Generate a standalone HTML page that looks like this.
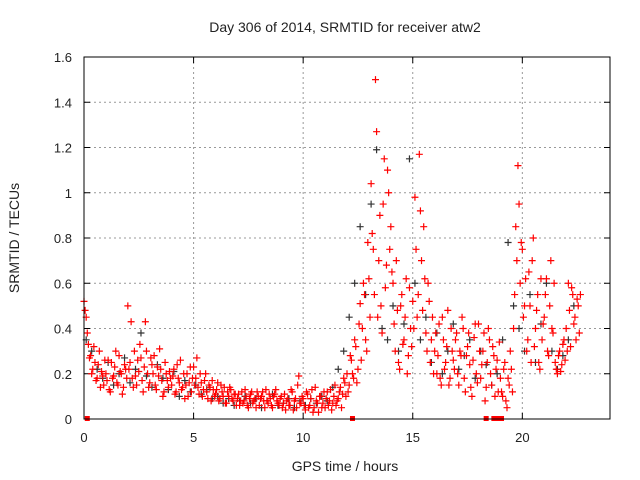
<!DOCTYPE html>
<html><head><meta charset="utf-8"><style>
html,body{margin:0;padding:0;background:#fff;}
svg{display:block;font-family:"Liberation Sans",sans-serif;}
</style></head><body>
<svg id="chart" width="640" height="480">
<text x="345" y="32" font-size="14" text-anchor="middle" fill="#222">Day 306 of 2014, SRMTID for receiver atw2</text>
<text x="345" y="471" font-size="14" text-anchor="middle" fill="#222">GPS time / hours</text>
<text x="19" y="238" font-size="14" text-anchor="middle" fill="#222" transform="rotate(-90 19 238)">SRMTID / TECUs</text>
<g id="grid"></g>
<g id="ticks"></g>
<g id="series-black"></g>
<g id="series-red"></g>
<rect x="84" y="57" width="526" height="362" fill="none" stroke="#000" stroke-width="1"/>
</svg>
<script>
const xTicks=[0,5,10,15,20];
const yTicks=[0,0.2,0.4,0.6,0.8,1,1.2,1.4,1.6];
const yTickLabels=["0","0.2","0.4","0.6","0.8","1","1.2","1.4","1.6"];
const redA=[0.52,0.45,0.33,0.28,0.22,0.25,0.18,0.30,0.21,0.15,
0.20,0.26,0.12,0.18,0.23,0.16,0.28,0.20,0.14,0.22,
0.50,0.25,0.18,0.30,0.15,0.21,0.27,0.12,0.43,0.20,
0.16,0.24,0.28,0.13,0.19,0.22,0.10,0.25,0.17,0.21,
0.15,0.22,0.12,0.18,0.26,0.14,0.09,0.20,0.16,0.12,
0.23,0.18,0.14,0.20,0.10,0.17,0.12,0.15,0.08,0.13,
0.11,0.16,0.09,0.12,0.14,0.07,0.10,0.13,0.08,0.11,
0.09,0.06,0.12,0.08,0.10,0.05,0.11,0.07,0.09,0.12,
0.06,0.10,0.08,0.13,0.07,0.09,0.05,0.11,0.08,0.06,
0.10,0.07,0.04,0.09,0.06,0.12,0.08,0.05,0.19,0.07,
0.09,0.04,0.11,0.06,0.13,0.05,0.08,0.03,0.10,0.07,
0.05,0.12,0.08,0.04,0.10,0.06,0.09,0.14,0.11,0.16,
0.20,0.15,0.26,0.18,0.32,0.22,0.51,0.40,0.55,0.30,
0.62,1.04,0.75,1.50,0.45,0.90,0.38,1.15,0.68,1.00,
0.85,0.60,0.30,0.48,0.22,0.55,0.35,0.62,0.28,0.40,
0.52,0.98,0.45,1.17,0.70,0.85,0.38,0.60,0.25,0.45,
0.30,0.20,0.42,0.15,0.35,0.25,0.48,0.18,0.30,0.22,
0.38,0.15,0.28,0.40,0.12,0.32,0.24,0.10,0.36,0.20,
0.42,0.18,0.30,0.08,0.25,0.35,0.15,0.28,0.22,0.12,
0.18,0.10,0.25,0.05,0.15,0.22,0.40,0.85,1.12,0.60,
0.75,0.50,0.30,0.65,0.25,0.80,0.40,0.55,0.22,0.35,
0.45,0.62,0.28,0.70,0.38,0.25,0.20,0.30,0.24,0.35,
0.40,0.60,0.32,0.55,0.45,0.53,0.38];
const redB=[0.48,0.38,0.27,0.20,0.32,0.17,0.24,0.14,0.19,0.26,
0.17,0.13,0.25,0.19,0.30,0.15,0.21,0.11,0.24,0.18,
0.22,0.43,0.14,0.19,0.26,0.33,0.17,0.23,0.30,0.14,
0.27,0.20,0.15,0.23,0.31,0.17,0.12,0.20,0.14,0.18,
0.19,0.11,0.24,0.16,0.13,0.20,0.15,0.10,0.23,0.18,
0.15,0.27,0.11,0.16,0.13,0.20,0.09,0.14,0.17,0.10,
0.13,0.08,0.15,0.10,0.07,0.12,0.14,0.09,0.11,0.06,
0.11,0.08,0.07,0.13,0.06,0.09,0.12,0.08,0.05,0.10,
0.09,0.12,0.05,0.08,0.11,0.06,0.10,0.13,0.07,0.09,
0.05,0.11,0.08,0.06,0.13,0.04,0.09,0.15,0.07,0.10,
0.06,0.12,0.05,0.09,0.03,0.14,0.07,0.10,0.05,0.12,
0.09,0.06,0.13,0.07,0.15,0.08,0.12,0.05,0.18,0.10,
0.12,0.28,0.20,0.35,0.16,0.42,0.26,0.60,0.35,0.78,
0.45,0.82,0.55,1.27,0.70,0.50,0.95,0.58,1.10,0.75,
0.65,0.42,0.70,0.25,0.50,0.33,0.45,0.20,0.58,0.32,
0.40,0.75,0.55,0.92,0.48,0.62,0.30,0.52,0.35,0.20,
0.38,0.28,0.18,0.45,0.22,0.32,0.15,0.40,0.26,0.35,
0.20,0.30,0.45,0.18,0.28,0.38,0.14,0.26,0.42,0.16,
0.30,0.24,0.38,0.14,0.40,0.20,0.32,0.10,0.26,0.34,
0.12,0.22,0.08,0.18,0.30,0.12,0.55,0.70,0.95,0.78,
0.45,0.62,0.35,0.50,0.70,0.32,0.48,0.25,0.62,0.42,
0.55,0.30,0.50,0.40,0.60,0.22,0.28,0.21,0.33,0.26,
0.30,0.48,0.58,0.42,0.35,0.50,0.55];
const black=[0.35,0.30,0.22,0.18,0.25,0.15,0.20,0.27,0.16,0.22,0.38,0.19,0.14,0.24,0.18,0.13,0.21,0.10,0.17,0.12,
0.15,0.11,0.13,0.09,0.10,0.07,0.09,0.06,0.08,0.10,0.07,0.09,0.05,0.08,0.11,0.06,0.07,0.09,0.05,0.08,
0.06,0.09,0.07,0.10,0.08,0.14,0.22,0.30,0.45,0.60,0.85,0.55,0.95,1.19,0.40,0.35,0.50,0.30,0.42,1.15,
0.60,0.35,0.45,0.25,0.38,0.20,0.30,0.42,0.22,0.28,0.35,0.18,0.30,0.24,0.15,0.20,0.35,0.78,0.50,0.40,
0.30,0.55,0.25,0.42,0.60,0.30,0.22,0.28,0.35,0.50];
const zeroTimes=[0.15,12.25,18.35,18.7,18.85,19.05];

const X0=84,X1=610,Y0=419,Y1=57,XMAX=24,YMAX=1.6;
const sx=v=>X0+(X1-X0)*v/XMAX;
const sy=v=>Y0-(Y0-Y1)*v/YMAX;
const NS="http://www.w3.org/2000/svg";
function mk(tag,attrs,parent){const e=document.createElementNS(NS,tag);for(const k in attrs)e.setAttribute(k,attrs[k]);parent.appendChild(e);return e;}
const grid=document.getElementById('grid'),ticks=document.getElementById('ticks');
xTicks.forEach(t=>{
  const x=sx(t);
  if(t>0){const g=mk('line',{x1:x,x2:x,y1:Y1,y2:Y0,stroke:'#999','stroke-dasharray':'2,3','stroke-width':1},grid);
  
  }
  mk('line',{x1:x,x2:x,y1:Y0,y2:Y0-6,stroke:'#000'},ticks);
  mk('line',{x1:x,x2:x,y1:Y1,y2:Y1+6,stroke:'#000'},ticks);
  const l=mk('text',{x:x,y:442,'font-size':13,'text-anchor':'middle',fill:'#222'},ticks);
  l.textContent=t;
  
  
});
yTicks.forEach((t,i)=>{
  const y=sy(t);
  if(t>0&&t<YMAX){const g=mk('line',{x1:X0,x2:X1,y1:y,y2:y,stroke:'#999','stroke-dasharray':'2,3','stroke-width':1},grid);
  
  }
  mk('line',{x1:X0,x2:X0+6,y1:y,y2:y,stroke:'#000'},ticks);
  mk('line',{x1:X1,x2:X1-6,y1:y,y2:y,stroke:'#000'},ticks);
  const l=mk('text',{x:72,y:y+5,'font-size':13,'text-anchor':'end',fill:'#222'},ticks);
  l.textContent=yTickLabels[i];
  
  
});
function plus(g,t,v,col,name){
  const x=sx(t),y=sy(v);
  const p=mk('path',{d:`M${x-3.5},${y}H${x+3.5}M${x},${y-3.5}V${y+3.5}`,stroke:col,'stroke-width':1.2,fill:'none'},g);
  
  
}
const gb=document.getElementById('series-black'),gr=document.getElementById('series-red');
black.forEach((v,i)=>plus(gb,0.1+i*0.25,v,'#333','black-point'));
redA.forEach((v,i)=>plus(gr,i*0.1,v,'#f00','red-point'));
redB.forEach((v,i)=>plus(gr,0.05+i*0.1,v,'#f00','red-point'));
zeroTimes.forEach(t=>{
  const r=mk('rect',{x:sx(t)-2.5,y:Y0-3,width:5,height:5,fill:'#f00'},gr);
  
  
});
</script>
</body></html>
